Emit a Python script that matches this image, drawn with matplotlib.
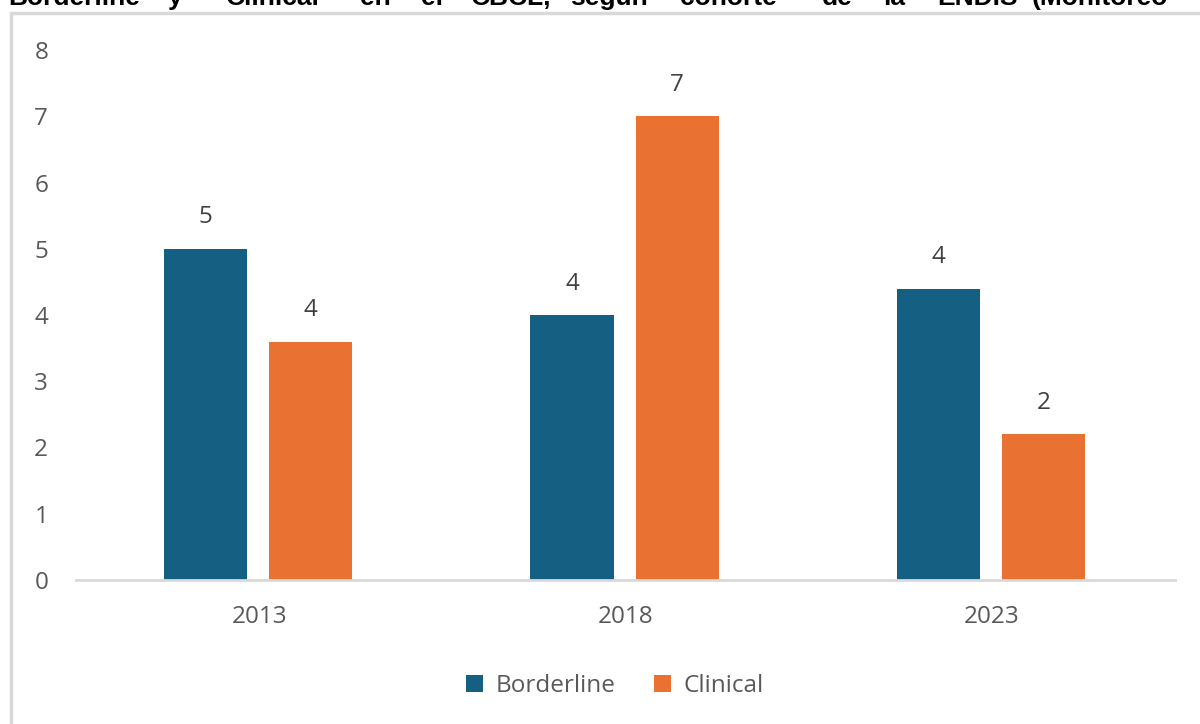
import matplotlib
matplotlib.use("Agg")
import matplotlib.pyplot as plt
from matplotlib.patches import Rectangle
import numpy as np

plt.rcParams['font.family'] = ['Open Sans', 'DejaVu Sans']

years = ["2013", "2018", "2023"]
borderline = [5.0, 4.0, 4.4]
clinical = [3.6, 7.0, 2.2]
borderline_lbl = ["5", "4", "4"]
clinical_lbl = ["4", "7", "2"]

title_words = ["Borderline", "y", "Clinical", "en", "el", "CBCL,", "según",
               "cohorte", "de", "la", "ENDIS", "(Monitoreo"]
title_x = [8, 168, 226, 360, 421, 471, 570, 680, 822, 883, 937, 1032]

blue = "#156082"
orange = "#E97132"
grey_txt = "#595959"

fig = plt.figure(figsize=(12, 7.24), dpi=100)

# clipped heading of the document above the chart
for w, px in zip(title_words, title_x):
    fig.text(px / 1200, 1 - 5 / 724, w, fontsize=19, fontweight='bold',
             family='Liberation Sans', color='black', va='baseline', ha='left')

# chart frame (runs off the right and bottom of the picture)
fig.patches.append(Rectangle((11 / 1200, -0.1), 1.2, 1.1 - 13 / 724,
                             transform=fig.transFigure, fill=False,
                             edgecolor="#d9d9d9", linewidth=2.5))

ax = fig.add_axes([76 / 1200, 1 - 580 / 724, (1175 - 76) / 1200, 530 / 724])
x = np.arange(len(years))
w = 0.227
b1 = ax.bar(x - 0.146, borderline, w, color=blue, label="Borderline")
b2 = ax.bar(x + 0.141, clinical, w, color=orange, label="Clinical")

for bars, lbls in ((b1, borderline_lbl), (b2, clinical_lbl)):
    for r, t in zip(bars, lbls):
        ax.annotate(t, (r.get_x() + r.get_width() / 2, r.get_height()),
                    xytext=(0, 14), textcoords='offset points',
                    ha='center', va='bottom', fontsize=17.5, color="#404040")

ax.set_xlim(-0.5, 2.5)
ax.set_ylim(0, 8)
ax.set_yticks(range(0, 9))
ax.set_xticks(x)
ax.set_xticklabels(years)
ax.tick_params(axis='y', length=0, pad=20, labelsize=17.5, labelcolor=grey_txt)
ax.tick_params(axis='x', length=0, pad=18, labelsize=17.5, labelcolor=grey_txt)
for s in ("top", "right", "left"):
    ax.spines[s].set_visible(False)
ax.spines["bottom"].set_color("#d9d9d9")
ax.spines["bottom"].set_linewidth(2)

fig.legend(handles=[b1, b2], loc='center', bbox_to_anchor=(615 / 1200, 1 - 686 / 724),
           ncol=2, frameon=False, fontsize=17.5, handlelength=0.7, handleheight=0.7,
           handletextpad=0.5, columnspacing=1.6, labelcolor=grey_txt)

fig.savefig("out.png", dpi=100)
